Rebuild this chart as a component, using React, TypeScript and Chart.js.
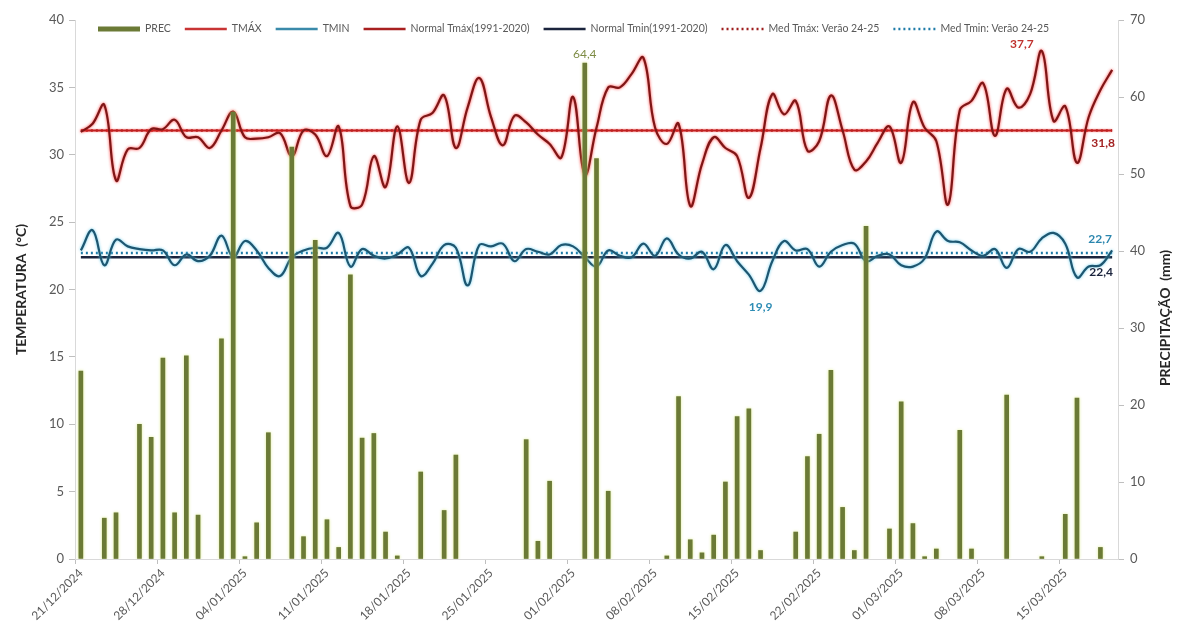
import React, { useEffect, useRef } from 'react';
import { Chart, registerables } from 'chart.js';

Chart.register(...registerables);

// ---------- DATA ----------
const START_DATE = '2024-12-21';
const N_DAYS = 89; // 21/12/2024 .. 19/03/2025

const PREC: number[] = [
  24.4, 0, 5.3, 6.0, 0, 17.5, 15.8, 26.1, 6.0, 26.4,
  5.7, 0, 28.6, 58.0, 0.3, 4.7, 16.4, 0, 53.5, 2.9,
  41.4, 5.1, 1.5, 36.9, 15.7, 16.3, 3.5, 0.4, 0, 11.3,
  0, 6.3, 13.5, 0, 0, 0, 0, 0, 15.5, 2.3,
  10.1, 0, 0, 64.4, 52.0, 8.8, 0, 0, 0, 0,
  0.4, 21.1, 2.5, 0.8, 3.1, 10.0, 18.5, 19.5, 1.1, 0,
  0, 3.5, 13.3, 16.2, 24.5, 6.7, 1.1, 43.2, 0, 3.9,
  20.4, 4.6, 0.3, 1.3, 0, 16.7, 1.3, 0, 0, 21.3,
  0, 0, 0.3, 0, 5.8, 20.9, 0, 1.5, 0,
];

const TMAX: number[] = [
  31.7, 32.3, 33.7, 28.1, 30.4, 30.5, 31.9, 31.9, 32.6, 31.3,
  31.3, 30.5, 31.8, 33.2, 31.3, 31.2, 31.3, 31.6, 29.9, 31.8,
  31.5, 29.9, 32.1, 26.2, 26.3, 29.9, 27.6, 32.1, 27.9, 32.6,
  33.1, 34.4, 30.5, 33.5, 35.7, 32.8, 30.7, 32.9, 32.4, 31.5,
  30.8, 29.8, 34.3, 28.5, 32.0, 35.0, 35.0, 36.0, 37.2, 32.0,
  30.8, 32.3, 26.2, 29.3, 31.3, 30.5, 29.9, 26.8, 30.5, 34.5,
  33.0, 34.0, 30.3, 31.0, 34.4, 31.8, 28.9, 29.5, 30.9, 32.1,
  29.4, 33.9, 32.0, 31.0, 26.3, 33.3, 34.0, 35.3, 31.4, 34.9,
  33.5, 34.5, 37.7, 32.5, 33.6, 29.4, 32.8, 34.8, 36.3,
];

const TMIN: number[] = [
  22.9, 24.4, 21.8, 23.7, 23.2, 23.0, 22.9, 22.9, 21.8, 22.6,
  22.1, 22.5, 24.0, 22.4, 23.6, 22.9, 21.6, 21.0, 22.4, 22.9,
  23.1, 23.1, 24.2, 21.7, 23.0, 22.5, 22.3, 22.6, 23.1, 21.0,
  21.9, 23.3, 23.1, 20.3, 23.3, 23.2, 23.4, 22.1, 23.0, 22.8,
  22.6, 23.3, 23.2, 22.4, 21.7, 22.9, 22.5, 22.4, 23.4, 22.5,
  23.8, 22.6, 22.3, 22.8, 21.5, 23.3, 22.1, 21.1, 19.9, 22.1,
  23.6, 22.9, 23.0, 21.7, 22.8, 23.3, 23.4, 22.1, 22.5, 22.6,
  21.8, 21.7, 22.3, 24.3, 23.6, 23.5, 22.9, 22.5, 23.0, 21.6,
  23.0, 22.8, 23.8, 24.2, 23.4, 20.9, 21.7, 21.8, 22.9,
];

const NORMAL_TMAX = 31.8;
const NORMAL_TMIN = 22.4;
const MED_TMAX = 31.8;
const MED_TMIN = 22.7;

const TEMP_TICKS = { min: 0, max: 40, step: 5 };
const PREC_TICKS = { min: 0, max: 70, step: 10 };
const TICK_EVERY = 7;

const SERIES_LABELS = [
  'PREC',
  'TMÁX',
  'TMIN',
  'Normal Tmáx(1991-2020)',
  'Normal Tmin(1991-2020)',
  'Med Tmáx: Verão 24-25',
  'Med Tmin: Verão 24-25',
];

function buildDateLabels(start: string, n: number): string[] {
  const out: string[] = [];
  const d0 = new Date(start + 'T12:00:00Z');
  for (let i = 0; i < n; i++) {
    const d = new Date(d0.getTime() + i * 86400000);
    const dd = String(d.getUTCDate()).padStart(2, '0');
    const mm = String(d.getUTCMonth() + 1).padStart(2, '0');
    out.push(`${dd}/${mm}/${d.getUTCFullYear()}`);
  }
  return out;
}
const DATES = buildDateLabels(START_DATE, N_DAYS);

// ---------- STYLES ----------
const FONT = 'Lato, "Open Sans", "DejaVu Sans", sans-serif';
const C_PREC = '#6B7A36';
const C_TMAX = '#7E1616';
const C_TMIN = '#1E5670';
const C_NTMAX = '#C02020';
const C_NTMIN = '#1B243D';
const C_MTMAX = '#9E1E1E';
const C_MTMIN = '#1F7BA8';

const GLOW: Record<string, { color: string; blur: number }> = {
  'PREC': { color: 'rgba(214,232,120,0.9)', blur: 3 },
  'TMÁX': { color: 'rgba(255,40,40,0.9)', blur: 3 },
  'TMIN': { color: 'rgba(90,200,235,0.9)', blur: 3 },
  'Normal Tmáx(1991-2020)': { color: 'rgba(255,60,60,0.7)', blur: 2 },
};

const LEGEND_STYLE: Record<string, { color: string; width: number; dash: number[] }> = {
  'PREC': { color: C_PREC, width: 5, dash: [] },
  'TMÁX': { color: '#C83434', width: 2.5, dash: [] },
  'TMIN': { color: '#3A8AAA', width: 2.5, dash: [] },
  'Normal Tmáx(1991-2020)': { color: '#A82020', width: 2.5, dash: [] },
  'Normal Tmin(1991-2020)': { color: C_NTMIN, width: 2.5, dash: [] },
  'Med Tmáx: Verão 24-25': { color: C_MTMAX, width: 2.5, dash: [2, 3] },
  'Med Tmin: Verão 24-25': { color: C_MTMIN, width: 2.5, dash: [2, 3] },
};

const LEGEND_LAYOUT = { offsetX: 23, offsetY: 9, lineW: 42, gap: 5, spacing: 14, fontSize: 10.5 };

const glowPlugin = {
  id: 'glowPlugin',
  beforeDatasetDraw(chart: any, args: any) {
    const ds = chart.data.datasets[args.index];
    const g = GLOW[ds.label];
    chart.ctx.save();
    if (g) {
      chart.ctx.shadowColor = g.color;
      chart.ctx.shadowBlur = g.blur;
    }
  },
  afterDatasetDraw(chart: any) {
    chart.ctx.restore();
  },
};

const legendPlugin = {
  id: 'legendPlugin',
  afterDatasetsDraw(chart: any) {
    const ctx = chart.ctx;
    const L = LEGEND_LAYOUT;
    let cx = chart.chartArea.left + L.offsetX;
    const cy = chart.chartArea.top + L.offsetY;
    ctx.save();
    ctx.font = `${L.fontSize}px ${FONT}`;
    ctx.textBaseline = 'middle';
    ctx.textAlign = 'left';
    chart.data.datasets.forEach((ds: any) => {
      const s = LEGEND_STYLE[ds.label];
      ctx.save();
      ctx.strokeStyle = s.color;
      ctx.lineWidth = s.width;
      ctx.setLineDash(s.dash);
      ctx.beginPath();
      ctx.moveTo(cx, cy);
      ctx.lineTo(cx + L.lineW, cy);
      ctx.stroke();
      ctx.restore();
      cx += L.lineW + L.gap;
      ctx.fillStyle = '#595959';
      ctx.fillText(ds.label, cx, cy);
      cx += ctx.measureText(ds.label).width + L.spacing;
    });
    ctx.restore();
  },
};

const annotPlugin = {
  id: 'annotPlugin',
  afterDatasetsDraw(chart: any) {
    const ctx = chart.ctx;
    const x = chart.scales.x;
    const y = chart.scales.y;
    const y2 = chart.scales.y2;
    const last = N_DAYS - 1;
    const iMaxP = PREC.indexOf(Math.max(...PREC));
    const iMaxT = TMAX.indexOf(Math.max(...TMAX));
    const iMinT = TMIN.indexOf(Math.min(...TMIN));
    const fmt = (v: number) => v.toFixed(1).replace('.', ',');
    const draw = (t: string, px: number, py: number, color: string, bold: boolean, size: number) => {
      ctx.save();
      ctx.font = `${bold ? 'bold ' : ''}${size}px ${FONT}`;
      ctx.fillStyle = color;
      ctx.textAlign = 'center';
      ctx.textBaseline = 'middle';
      ctx.fillText(t, px, py);
      ctx.restore();
    };
    draw(fmt(PREC[iMaxP]), x.getPixelForValue(iMaxP), y2.getPixelForValue(PREC[iMaxP]) - 9, '#7E8C45', false, 12);
    draw(fmt(TMAX[iMaxT]), x.getPixelForValue(iMaxT) - 20, y.getPixelForValue(TMAX[iMaxT]) - 7, '#C0322F', true, 12);
    draw(fmt(TMIN[iMinT]), x.getPixelForValue(iMinT), y.getPixelForValue(TMIN[iMinT]) + 16, '#2E8DB5', true, 12);
    draw(fmt(MED_TMAX), x.getPixelForValue(last) - 9, y.getPixelForValue(MED_TMAX) + 13, '#A32323', true, 12);
    draw(fmt(MED_TMIN), x.getPixelForValue(last) - 12, y.getPixelForValue(MED_TMIN) - 14, '#2B86AE', true, 12);
    draw(fmt(NORMAL_TMIN), x.getPixelForValue(last) - 11, y.getPixelForValue(NORMAL_TMIN) + 15, '#1B243D', true, 12);
  },
  afterDraw(chart: any) {
    const ctx = chart.ctx;
    ctx.save();
    ctx.translate(1165, 318);
    ctx.rotate(-Math.PI / 2);
    ctx.font = `bold 14px ${FONT}`;
    ctx.fillStyle = '#262626';
    ctx.textAlign = 'center';
    ctx.textBaseline = 'middle';
    ctx.fillText('PRECIPITAÇÃO  (mm)', 0, 0);
    ctx.restore();
  },
};

const constLine = (v: number) => DATES.map(() => v);

export default function App() {
  const ref = useRef<HTMLCanvasElement | null>(null);

  useEffect(() => {
    if (!ref.current) return;
    const axisGrey = '#D9D9D9';
    const tickGrey = '#595959';
    const chart = new Chart(ref.current, {
      type: 'bar',
      data: {
        labels: DATES,
        datasets: [
          {
            type: 'bar',
            label: SERIES_LABELS[0],
            data: PREC,
            yAxisID: 'y2',
            backgroundColor: (c: any) => (c.raw > 0 ? C_PREC : 'rgba(0,0,0,0)'),
            barThickness: 4,
            order: 0,
          } as any,
          {
            type: 'line',
            label: SERIES_LABELS[1],
            data: TMAX,
            yAxisID: 'y',
            borderColor: C_TMAX,
            borderWidth: 2.2,
            pointRadius: 0,
            tension: 0.4,
            order: 1,
          },
          {
            type: 'line',
            label: SERIES_LABELS[2],
            data: TMIN,
            yAxisID: 'y',
            borderColor: C_TMIN,
            borderWidth: 2.2,
            pointRadius: 0,
            tension: 0.4,
            order: 2,
          },
          {
            type: 'line',
            label: SERIES_LABELS[3],
            data: constLine(NORMAL_TMAX),
            yAxisID: 'y',
            borderColor: C_NTMAX,
            borderWidth: 2.2,
            pointRadius: 0,
            order: 3,
          },
          {
            type: 'line',
            label: SERIES_LABELS[4],
            data: constLine(NORMAL_TMIN),
            yAxisID: 'y',
            borderColor: C_NTMIN,
            borderWidth: 2.5,
            pointRadius: 0,
            order: 4,
          },
          {
            type: 'line',
            label: SERIES_LABELS[5],
            data: constLine(MED_TMAX),
            yAxisID: 'y',
            borderColor: C_MTMAX,
            borderWidth: 2.5,
            borderDash: [2, 3],
            pointRadius: 0,
            order: 5,
          },
          {
            type: 'line',
            label: SERIES_LABELS[6],
            data: constLine(MED_TMIN),
            yAxisID: 'y',
            borderColor: C_MTMIN,
            borderWidth: 2.5,
            borderDash: [2, 3],
            pointRadius: 0,
            order: 6,
          },
        ],
      },
      options: {
        animation: false,
        responsive: true,
        maintainAspectRatio: false,
        layout: { padding: { top: 20, left: 0, right: 0, bottom: 0 } },
        plugins: {
          tooltip: { enabled: false },
          legend: { display: false },
        },
        scales: {
          x: {
            type: 'category',
            offset: true,
            afterFit: (s: any) => { s.height = 77; },
            grid: {
              offset: true,
              drawOnChartArea: false,
              drawTicks: true,
              tickLength: 5,
              tickColor: (c: any) => (c.index % TICK_EVERY === 0 ? '#BFBFBF' : 'rgba(0,0,0,0)'),
            },
            border: { display: true, color: axisGrey, width: 1 },
            ticks: {
              autoSkip: false,
              maxRotation: 45,
              minRotation: 45,
              padding: 2,
              color: tickGrey,
              font: { family: FONT, size: 12 },
              callback: (_v: any, i: number) => (i % TICK_EVERY === 0 ? DATES[i] : ''),
            },
          },
          y: {
            type: 'linear',
            position: 'left',
            min: TEMP_TICKS.min,
            max: TEMP_TICKS.max,
            afterFit: (s: any) => { s.width = 75; },
            grid: { drawOnChartArea: false, tickLength: 6, tickColor: '#BFBFBF' },
            border: { display: true, color: axisGrey, width: 1 },
            ticks: {
              stepSize: TEMP_TICKS.step,
              padding: 5,
              color: tickGrey,
              font: { family: FONT, size: 13 },
            },
            title: {
              display: true,
              text: 'TEMPERATURA  (°C)',
              color: '#262626',
              font: { family: FONT, size: 14, weight: 'bold' },
              padding: { top: 13, bottom: 0 },
            },
          },
          y2: {
            type: 'linear',
            position: 'right',
            min: PREC_TICKS.min,
            max: PREC_TICKS.max,
            afterFit: (s: any) => { s.width = 63; },
            grid: { drawOnChartArea: false, tickLength: 6, tickColor: '#BFBFBF' },
            border: { display: true, color: axisGrey, width: 1 },
            ticks: {
              stepSize: PREC_TICKS.step,
              padding: 6,
              color: tickGrey,
              font: { family: FONT, size: 13 },
            },
          },
        },
      },
      plugins: [glowPlugin, legendPlugin, annotPlugin],
    } as any);
    return () => chart.destroy();
  }, []);

  return (
    <div style={{ position: 'fixed', left: 0, top: 0, width: 1181, height: 636, background: '#fff' }}>
      <canvas ref={ref} />
    </div>
  );
}
